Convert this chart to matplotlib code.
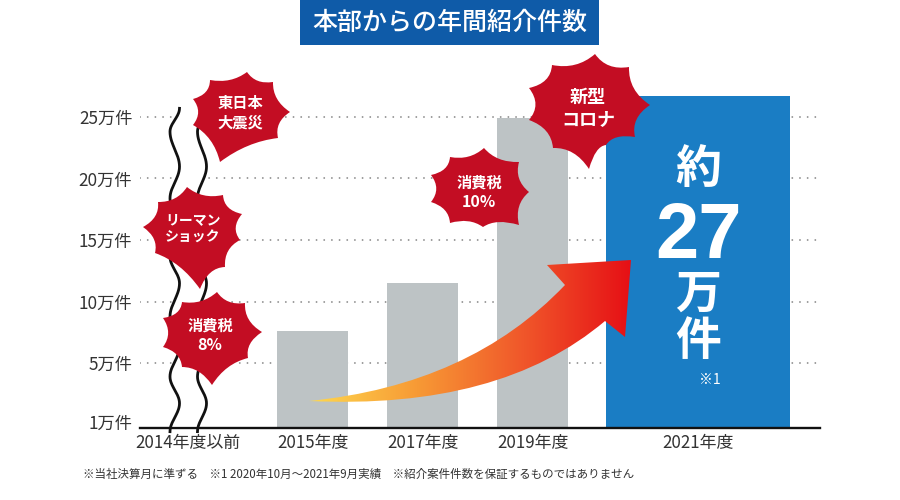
import numpy as np
import matplotlib
matplotlib.use("Agg")
import matplotlib.pyplot as plt
from matplotlib.path import Path
from matplotlib.patches import PathPatch, Rectangle
from matplotlib.colors import LinearSegmentedColormap
from matplotlib.transforms import ScaledTranslation

plt.rcParams['font.family'] = ['Noto Sans CJK JP', 'DejaVu Sans']

# ---- data
title = "本部からの年間紹介件数"
years = ["2015年度", "2017年度", "2019年度", "2021年度"]
counts = [7.6, 11.5, 24.9, 26.7]
first_label = "2014年度以前"
y_ticks = [1, 5, 10, 15, 20, 25]
y_labels = ["1万件", "5万件", "10万件", "15万件", "20万件", "25万件"]
footnote = "※当社決算月に準ずる　※1 2020年10月～2021年9月実績　※紹介案件件数を保証するものではありません"

# ---- layout (pixels)
bar_centers = [312.5, 422.5, 532.5, 698]
bar_widths = [71, 71, 71, 184]
first_center = 188
C_BAR, C_BLUE, C_TITLE, C_RED, C_TXT = "#bdc3c5", "#1a7dc4", "#0f5ba8", "#c30d23", "#333333"

fig = plt.figure(figsize=(9, 5), dpi=100, facecolor="white")
L, R, B, T = 140, 820, 428, 90
ax = fig.add_axes([L/900, 1-B/500, (R-L)/900, (B-T)/500])

def fwd(v):
    v = np.asarray(v, dtype=float)
    return np.where(v < 5, (v-1)*65/4, 65+(v-5)*12.3)
def inv(p):
    p = np.asarray(p, dtype=float)
    return np.where(p < 65, 1+p*4/65, 5+(p-65)/12.3)
ax.set_yscale('function', functions=(fwd, inv))
ax.set_xlim(L, R)
ax.set_ylim(1, float(inv(B-T)))
colors = [C_BAR, C_BAR, C_BAR, C_BLUE]
ax.bar(bar_centers, counts, width=bar_widths, bottom=0, color=colors, zorder=3)
ax.set_yticks(y_ticks, y_labels, fontsize=12.4, color=C_TXT)
ax.set_xticks([first_center]+bar_centers, [first_label]+years, fontsize=12.2, color=C_TXT)
ax.tick_params(axis='y', length=0, pad=5.5)
ax.tick_params(axis='x', length=0, pad=4.5)
ax.get_yticklabels()[0].set_transform(ax.get_yticklabels()[0].get_transform()
                                      + ScaledTranslation(0, 6/72*0.72, fig.dpi_scale_trans))
ax.grid(axis='y', color="#8a8a8a", lw=1.3, linestyle=(0, (0.05, 4.2)), dash_capstyle='round', zorder=1)
ax.set_axisbelow(True)
for s in ("top", "left", "right"):
    ax.spines[s].set_visible(False)
ax.spines["bottom"].set_linewidth(1.7)
ax.spines["bottom"].set_color("#111111")
ax.spines["bottom"].set_zorder(5)

# ---- overlay in pixel coordinates
ov = fig.add_axes([0, 0, 1, 1], facecolor="none")
ov.set_xlim(0, 900); ov.set_ylim(500, 0); ov.axis("off")

# title
ov.add_patch(Rectangle((300, 0), 299, 45, color=C_TITLE, lw=0))
ov.text(450, 22.5, title, color="white", fontsize=18, fontweight="medium", ha="center", va="center")

# wave break
ext_y = np.array([115, 185, 290, 385, 470, 560, 640, 740, 830, 920, 1000, 1085])/3+70
ext_x = np.array([1, 0, 1, 0, 1, 0, 1, 0, 1, 0, 1, 0], dtype=float)
yy, xx = [], []
for i in range(len(ext_y)-1):
    t = np.linspace(0, 1, 30)
    s = (1-np.cos(np.pi*t))/2
    yy.append(ext_y[i]+(ext_y[i+1]-ext_y[i])*t)
    xx.append(ext_x[i]+(ext_x[i+1]-ext_x[i])*s)
yy, xx = np.concatenate(yy), np.concatenate(xx)
w1 = 170+xx*9.5
w2 = 197.5+xx*9
mask = yy <= 426.5
ov.fill_betweenx(yy[mask], w1[mask], w2[mask], color="white", lw=0, zorder=1)
ov.plot(w1, yy, color="#111111", lw=2.0, zorder=2)
ov.plot(w2, yy, color="#111111", lw=2.0, zorder=2)

# gradient arrow
verts = [(309, 401), (470, 385), (565, 285), (547, 265), (631, 260), (625, 337), (605, 321), (500, 410), (309, 401), (309, 401)]
codes = [Path.MOVETO, Path.CURVE3, Path.CURVE3, Path.LINETO, Path.LINETO, Path.LINETO, Path.LINETO, Path.CURVE3, Path.CURVE3, Path.CLOSEPOLY]
arrow = PathPatch(Path(verts, codes), facecolor="none", edgecolor="none", zorder=3, transform=ov.transData)
ov.add_patch(arrow)
cm = LinearSegmentedColormap.from_list("g", ["#ffd94f", "#f79a35", "#f0562a", "#e60f15"])
im = ov.imshow(np.linspace(0, 1, 256).reshape(1, -1), cmap=cm, extent=(309, 632, 420, 255), aspect="auto", zorder=3)
im.set_clip_path(arrow)
ov.set_xlim(0, 900); ov.set_ylim(500, 0)

# bursts
def burst(tips, center, depth):
    tips = list(tips)
    v, c = [tips[0]], [Path.MOVETO]
    cx, cy = center
    for a, b in zip(tips, tips[1:]+tips[:1]):
        mx, my = (a[0]+b[0])/2, (a[1]+b[1])/2
        v += [(mx+(cx-mx)*depth, my+(cy-my)*depth), b]
        c += [Path.CURVE3, Path.CURVE3]
    ov.add_patch(PathPatch(Path(v, c), facecolor=C_RED, edgecolor="none", zorder=4))

bursts = [
    ([(247, 72), (273, 82), (290, 112), (278, 138), (220, 162), (193, 125), (193, 99), (210, 80)], (240, 112)),
    ([(187, 187), (223, 195), (242, 214), (240, 240), (225, 267), (200, 289), (155, 253), (143, 227), (158, 202)], (193, 230)),
    ([(217, 292), (245, 303), (262, 332), (248, 358), (212, 385), (182, 367), (163, 347), (163, 318), (182, 302)], (210, 335)),
    ([(484, 148), (519, 162), (529, 192), (519, 225), (483, 227), (450, 223), (431, 202), (431, 175), (450, 157)], (479, 190)),
    ([(595, 54), (629, 67), (650, 105), (635, 137), (606, 145), (589, 169), (553, 148), (529, 120), (529, 88), (552, 65)], (588, 107)),
]
for tips, c in bursts:
    burst(tips, c, 0.22)

labels = [
    ("東日本", 240, 103, 11), ("大震災", 240, 123, 11),
    ("リーマン", 193, 220, 10), ("ショック", 193, 238, 10),
    ("消費税", 210, 326, 11), ("8%", 210, 345, 11.5),
    ("消費税", 479, 183, 11), ("10%", 479, 202, 11.5),
    ("新型", 588, 97, 13), ("コロナ", 588, 120, 13),
]
for s, x, y, fs in labels:
    ov.text(x, y, s, color="white", fontsize=fs, fontweight="bold", ha="center", va="center", zorder=5)

# big bar text
ov.text(698, 170, "約", color="white", fontsize=33, fontweight="bold", ha="center", va="center", zorder=2)
ov.text(698, 237, "27", color="white", fontsize=56, fontweight="bold", family="Liberation Sans", ha="center", va="center", zorder=2)
ov.text(698, 295, "万", color="white", fontsize=33, fontweight="bold", ha="center", va="center", zorder=2)
ov.text(698, 342, "件", color="white", fontsize=33, fontweight="bold", ha="center", va="center", zorder=2)
ov.text(710, 380, "※1", color="white", fontsize=10, ha="center", va="center", zorder=2)

ov.text(83, 474, footnote, color=C_TXT, fontsize=8.3, ha="left", va="center")

fig.savefig("out.png", dpi=100)
